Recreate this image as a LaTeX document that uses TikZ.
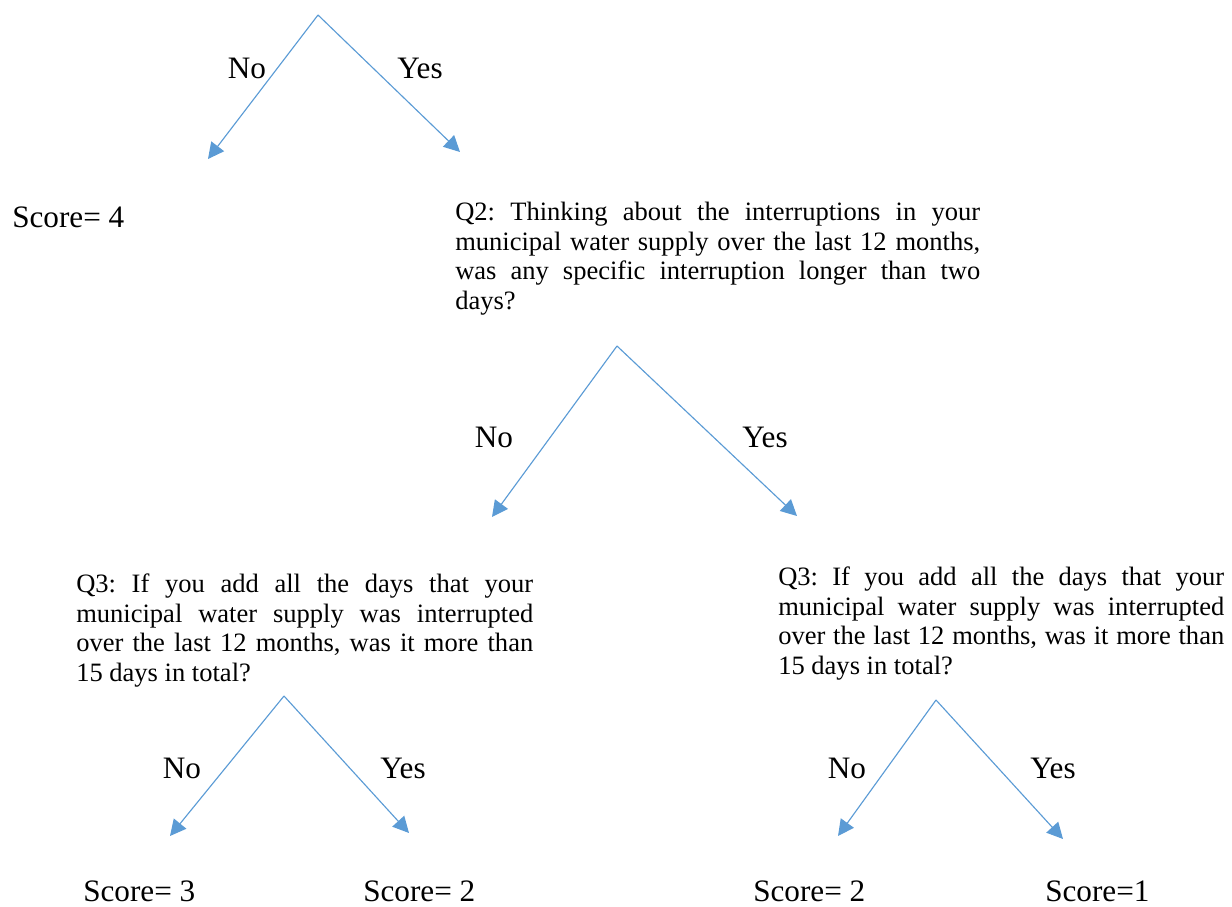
\documentclass[tikz,border=0pt]{standalone}
\usepackage{fontspec}
\setmainfont{Liberation Serif}
\usetikzlibrary{arrows.meta}
\definecolor{branchblue}{HTML}{5B9BD5}
\setlength{\parindent}{0pt}
\frenchspacing

\begin{document}
\begin{tikzpicture}[x=0.75pt, y=-0.75pt,
  branch/.style={draw=branchblue, line width=0.85pt, -{Triangle[length=12pt, width=12pt]}},
  ans/.style={inner sep=0pt, anchor=base, font=\fontsize{23.4}{28}\selectfont},
  score/.style={inner sep=0pt, anchor=base west, font=\fontsize{23.4}{28}\selectfont},
  quest/.style={inner sep=0pt, anchor=north west, align=justify, font=\fontsize{19.9}{22.1}\selectfont}]
\useasboundingbox (0,0) rectangle (1232,907);

% forks
\coordinate (r1) at (318,15);  \coordinate (r1n) at (208,159); \coordinate (r1y) at (460,152);
\coordinate (r2) at (617,346); \coordinate (r2n) at (492,517); \coordinate (r2y) at (797,516);
\coordinate (r3) at (284,696); \coordinate (r3n) at (170,836); \coordinate (r3y) at (409,833);
\coordinate (r4) at (936,700); \coordinate (r4n) at (838,836); \coordinate (r4y) at (1063,839);

% questions and scores
\node[score] (s4) at (12,227) {Score= 4};
\node[quest, text width=393.75pt] (q2) at (455,202) {Q2: Thinking about the interruptions in your\linebreak municipal water supply over the last 12 months,\linebreak was any specific interruption longer than two\linebreak days?};
\node[quest, text width=342.75pt] (q3a) at (76,574) {Q3: If you add all the days that your\linebreak municipal water supply was interrupted\linebreak over the last 12 months, was it more than\linebreak 15 days in total?};
\node[quest, text width=334.5pt] (q3b) at (778,567) {Q3: If you add all the days that your\linebreak municipal water supply was interrupted\linebreak over the last 12 months, was it more than\linebreak 15 days in total?};
\node[score] (s3) at (83,901) {Score= 3};
\node[score] (s2a) at (363,901) {Score= 2};
\node[score] (s2b) at (753,901) {Score= 2};
\node[score] (s1) at (1045,901) {Score=1};

% answers
\node[ans] (n1) at (247,78) {No};  \node[ans] (y1) at (420,78) {Yes};
\node[ans] (n2) at (494,447) {No}; \node[ans] (y2) at (765,447) {Yes};
\node[ans] (n3) at (182,778) {No}; \node[ans] (y3) at (403,778) {Yes};
\node[ans] (n4) at (847,778) {No}; \node[ans] (y4) at (1053,778) {Yes};

\draw[branch] (r1) -- (r1n);
\draw[branch] (r1) -- (r1y);
\draw[branch] (r2) -- (r2n);
\draw[branch] (r2) -- (r2y);
\draw[branch] (r3) -- (r3n);
\draw[branch] (r3) -- (r3y);
\draw[branch] (r4) -- (r4n);
\draw[branch] (r4) -- (r4y);
\end{tikzpicture}
\end{document}
